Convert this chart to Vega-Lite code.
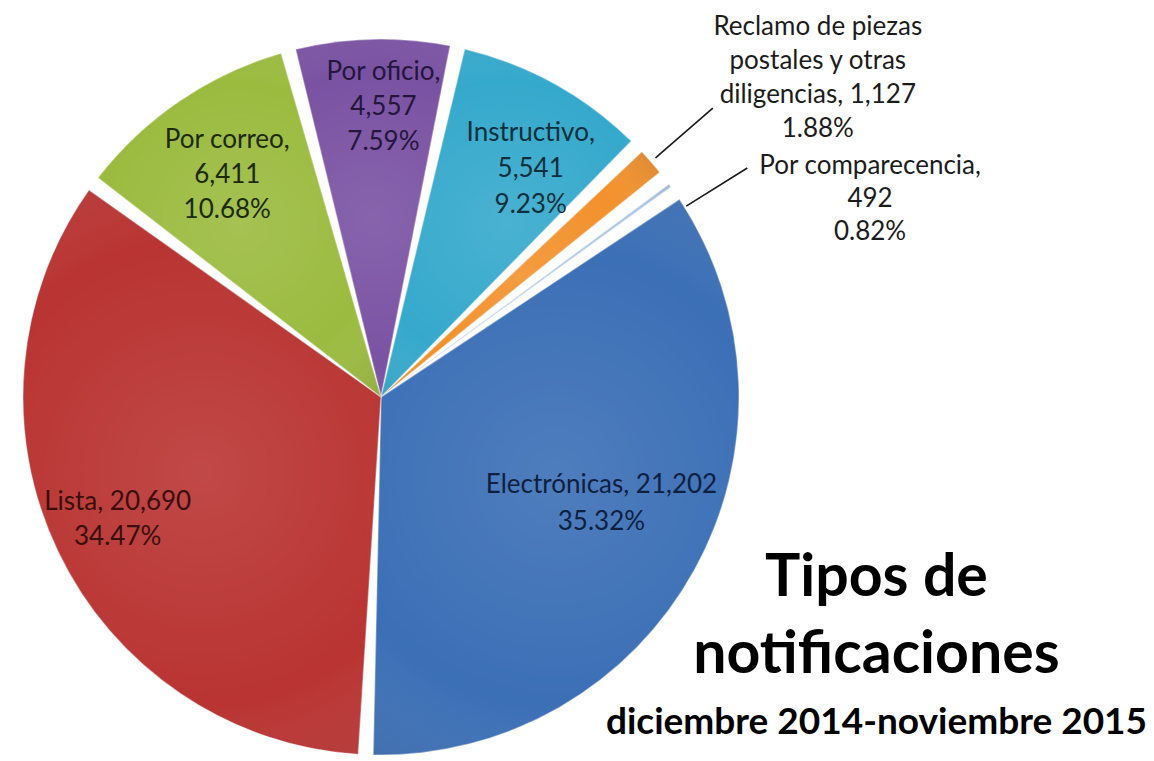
{
  "$schema": "https://vega.github.io/schema/vega-lite/v6.json",
  "width": 762,
  "height": 794,
  "autosize": {"type": "none"},
  "padding": {"left": 0, "top": 0, "right": 392, "bottom": 0},
  "background": "white",
  "config": {"view": {"stroke": null}},
  "title": {
    "text": ["Tipos de", "notificaciones"],
    "subtitle": "diciembre 2014-noviembre 2015",
    "orient": "bottom",
    "anchor": "start",
    "align": "center",
    "dx": 928,
    "offset": -245,
    "font": "Lato",
    "fontSize": 59,
    "fontWeight": "bold",
    "color": "#000000",
    "lineHeight": 77,
    "subtitleFont": "Lato",
    "subtitleFontSize": 37,
    "subtitleFontWeight": "bold",
    "subtitleColor": "#000000",
    "subtitlePadding": 20
  },
  "data": {
    "values": [
      {"categoria": "Por oficio", "valor": 4557, "orden": 1, "etiqueta": "Por oficio,\n4,557\n7.59%"},
      {"categoria": "Instructivo", "valor": 5541, "orden": 2, "etiqueta": "Instructivo,\n5,541\n9.23%"},
      {"categoria": "Reclamo de piezas postales y otras diligencias", "valor": 1127, "orden": 3, "etiqueta": "Reclamo de piezas\npostales y otras\ndiligencias, 1,127\n1.88%"},
      {"categoria": "Por comparecencia", "valor": 492, "orden": 4, "etiqueta": "Por comparecencia,\n492\n0.82%"},
      {"categoria": "Electrónicas", "valor": 21202, "orden": 5, "etiqueta": "Electrónicas, 21,202\n35.32%"},
      {"categoria": "Lista", "valor": 20690, "orden": 6, "etiqueta": "Lista, 20,690\n34.47%"},
      {"categoria": "Por correo", "valor": 6411, "orden": 7, "etiqueta": "Por correo,\n6,411\n10.68%"}
    ]
  },
  "encoding": {
    "theta": {"field": "valor", "type": "quantitative", "stack": true, "scale": {"range": [-0.2618, 6.0214]}},
    "order": {"field": "orden", "type": "quantitative"}
  },
  "layer": [
    {
      "mark": {"type": "arc", "radius": 358, "padAngle": 0.042, "stroke": "rgba(255,255,255,0.35)", "strokeWidth": 1.5},
      "encoding": {
        "color": {
          "field": "categoria",
          "type": "nominal",
          "legend": null,
          "scale": {
            "domain": ["Por oficio", "Instructivo", "Reclamo de piezas postales y otras diligencias", "Por comparecencia", "Electrónicas", "Lista", "Por correo"],
            "range": ["#7a52a3", "#35a9cc", "#f3912c", "#a9c6e8", "#3b6fb6", "#b93432", "#9bbb3f"]
          }
        }
      }
    },
    {
      "mark": {
        "type": "arc",
        "radius": 358,
        "padAngle": 0.042,
        "fill": {
          "gradient": "radial",
          "x1": 0.5, "y1": 0.5, "r1": 0,
          "x2": 0.5, "y2": 0.5, "r2": 0.75,
          "stops": [
            {"offset": 0, "color": "rgba(255,255,255,0.10)"},
            {"offset": 0.55, "color": "rgba(255,255,255,0)"},
            {"offset": 1, "color": "rgba(0,0,0,0.22)"}
          ]
        }
      },
      "encoding": {}
    },
    {
      "mark": {"type": "arc", "radius": 364, "radius2": 440, "padAngle": 1.2, "fill": null, "stroke": "#1a1a1a", "strokeWidth": 1.6},
      "encoding": {
        "strokeOpacity": {"condition": {"test": "datum.orden == 3", "value": 1}, "value": 0}
      }
    },
    {
      "mark": {"type": "arc", "radius": 360, "radius2": 432, "thetaOffset": 0.073, "padAngle": 1.2, "fill": null, "stroke": "#1a1a1a", "strokeWidth": 1.6},
      "encoding": {
        "strokeOpacity": {"condition": {"test": "datum.orden == 4", "value": 1}, "value": 0}
      }
    },
    {
      "mark": {"type": "text", "radius": 325, "dx": 10, "dy": 0, "font": "Lato", "fontSize": 26, "lineHeight": 35, "lineBreak": "\n", "align": "center", "baseline": "middle", "color": "#24163a"},
      "encoding": {
        "text": {"condition": {"test": "datum.orden == 1", "field": "etiqueta"}, "value": ""}
      }
    },
    {
      "mark": {"type": "text", "radius": 303, "dx": 3, "dy": 1, "font": "Lato", "fontSize": 26, "lineHeight": 36, "lineBreak": "\n", "align": "center", "baseline": "middle", "color": "#0e2f3c"},
      "encoding": {
        "text": {"condition": {"test": "datum.orden == 2", "field": "etiqueta"}, "value": ""}
      }
    },
    {
      "mark": {"type": "text", "radius": 300, "dx": 15, "dy": -9, "font": "Lato", "fontSize": 26, "lineHeight": 35, "lineBreak": "\n", "align": "center", "baseline": "middle", "color": "#1c2a0b"},
      "encoding": {
        "text": {"condition": {"test": "datum.orden == 7", "field": "etiqueta"}, "value": ""}
      }
    },
    {
      "mark": {"type": "text", "radius": 238, "dx": 12, "dy": -27, "font": "Lato", "fontSize": 26, "lineHeight": 37, "lineBreak": "\n", "align": "center", "baseline": "middle", "color": "#0e1f40"},
      "encoding": {
        "text": {"condition": {"test": "datum.orden == 5", "field": "etiqueta"}, "value": ""}
      }
    },
    {
      "mark": {"type": "text", "radius": 284, "dx": -7, "dy": -17, "font": "Lato", "fontSize": 26, "lineHeight": 35, "lineBreak": "\n", "align": "center", "baseline": "middle", "color": "#3a0e0e"},
      "encoding": {
        "text": {"condition": {"test": "datum.orden == 6", "field": "etiqueta"}, "value": ""}
      }
    },
    {
      "mark": {"type": "text", "radius": 440, "dx": 105, "dy": -81, "font": "Lato", "fontSize": 26, "lineHeight": 34, "lineBreak": "\n", "align": "center", "baseline": "middle", "color": "#1c1c1c"},
      "encoding": {
        "text": {"condition": {"test": "datum.orden == 3", "field": "etiqueta"}, "value": ""}
      }
    },
    {
      "mark": {"type": "text", "radius": 440, "dx": 134, "dy": 29, "font": "Lato", "fontSize": 26, "lineHeight": 33, "lineBreak": "\n", "align": "center", "baseline": "middle", "color": "#1c1c1c"},
      "encoding": {
        "text": {"condition": {"test": "datum.orden == 4", "field": "etiqueta"}, "value": ""}
      }
    }
  ]
}
